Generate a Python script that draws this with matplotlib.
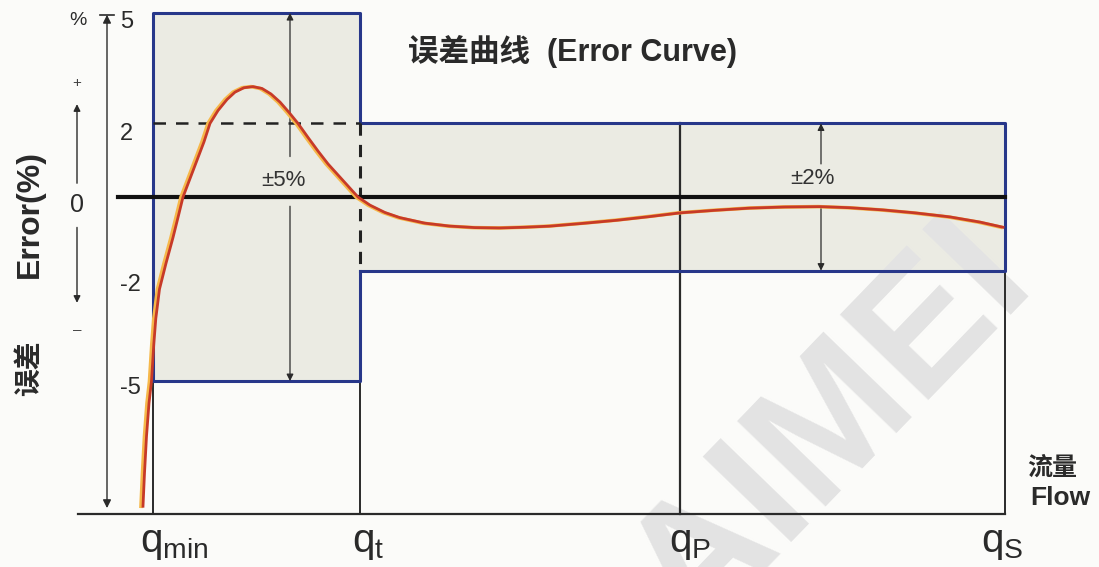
import matplotlib
matplotlib.use("Agg")
import matplotlib.pyplot as plt
from matplotlib.patches import Rectangle

plt.rcParams['font.family'] = ['Liberation Sans', 'Noto Sans CJK SC', 'DejaVu Sans']
plt.rcParams['mathtext.fontset'] = 'custom'
plt.rcParams['mathtext.rm'] = 'Liberation Sans'

# flow positions of the marks (schematic units)
q_names = ['min', 't', 'P', 'S']
q_pos = [153, 360, 680, 1005]

# error limits (%)
wide_limit = 5
narrow_limit = 2
tick_text = ['5', '2', '-2', '-5']

# error curve
flow = [143, 144.5, 146.5, 149, 151.5, 153.8, 155.8, 159.5, 166, 173, 178.5, 183,
        190, 197, 204, 210, 218, 227, 235, 244, 253, 262, 271, 280, 289, 298,
        308, 318, 328, 338, 348, 358, 370, 385, 400, 425, 450, 475, 500, 525,
        550, 585, 617, 650, 680, 715, 750, 785, 820, 850, 883, 915, 950, 980, 1003]
err = [-8.4, -7.5, -6.5, -5.6, -5.0, -4.0, -3.3, -2.5, -1.8, -1.1, -0.5, 0.0,
       0.5, 1.0, 1.5, 2.0, 2.35, 2.65, 2.85, 2.97, 3.0, 2.95, 2.8, 2.58, 2.3, 2.0,
       1.62, 1.25, 0.9, 0.6, 0.3, 0.0, -0.22, -0.42, -0.56, -0.71, -0.79, -0.83,
       -0.84, -0.82, -0.79, -0.71, -0.63, -0.53, -0.43, -0.36, -0.30, -0.27,
       -0.26, -0.29, -0.35, -0.43, -0.54, -0.68, -0.82]

base = -8.6
blue = '#27378a'
fill = '#ebebe3'
dark = '#2a2a2a'

fig = plt.figure(figsize=(10.99, 5.67), dpi=100)
fig.patch.set_facecolor('#fbfbf9')
ax = fig.add_axes([0, 0, 1, 1])
ax.set_xlim(0, 1099)
ax.set_ylim(-10.05, 5.353)
ax.axis('off')

qmin, qt, qp, qs = q_pos

# shaded tolerance zones
ax.add_patch(Rectangle((qmin, -wide_limit), qt - qmin, 2 * wide_limit,
                       facecolor=fill, edgecolor='none', zorder=1))
ax.add_patch(Rectangle((qt, -narrow_limit), qs - qt, 2 * narrow_limit,
                       facecolor=fill, edgecolor='none', zorder=1))

# watermark
ax.text(832, -6.3, 'AIMEI', fontsize=128, color='#e3e3e3', rotation=46,
        ha='center', va='center', zorder=1.5, fontweight='bold')

# blue outlines
lw_b = 2.2
ax.plot([qmin, qmin, qt, qt], [-wide_limit, wide_limit, wide_limit, narrow_limit],
        color=blue, lw=lw_b, zorder=3, solid_capstyle='butt')
ax.plot([qmin, qt, qt], [-wide_limit, -wide_limit, -narrow_limit],
        color=blue, lw=lw_b, zorder=3)
ax.plot([qt, qs, qs, qt], [narrow_limit, narrow_limit, -narrow_limit, -narrow_limit],
        color=blue, lw=lw_b, zorder=3)

# dashed limit lines
ax.plot([qmin, qt], [narrow_limit, narrow_limit], color='#222222', lw=1.8,
        ls=(0, (5, 4)), zorder=3)
ax.plot([qt, qt], [narrow_limit, -narrow_limit], color='#222222', lw=2.2,
        ls=(0, (4, 3)), zorder=3)

# vertical flow lines down to the base
ax.plot([qmin, qmin], [-wide_limit, base], color=dark, lw=1.4, zorder=2)
ax.plot([qt, qt], [-wide_limit, base], color=dark, lw=1.4, zorder=2)
ax.plot([qp, qp], [narrow_limit, base], color=dark, lw=1.6, zorder=2)
ax.plot([qs, qs], [-narrow_limit, base], color=dark, lw=1.4, zorder=2)

# base line and zero line
ax.plot([78, qs], [base, base], color=dark, lw=1.6, zorder=2)
ax.plot([118, qs], [0, 0], color='#111111', lw=3.0, zorder=4)

# main vertical axis with arrows
ax.annotate('', xy=(107, 4.95), xytext=(107, base + 0.15),
            arrowprops=dict(arrowstyle='<|-|>', color=dark, lw=1.0,
                            mutation_scale=12, shrinkA=0, shrinkB=0))
ax.plot([100, 114], [4.95, 4.95], color=dark, lw=1.2)

# +/- arrows next to the axis label
ax.annotate('', xy=(77, 2.6), xytext=(77, 0.3),
            arrowprops=dict(arrowstyle='-|>', color=dark, lw=1.0, mutation_scale=10))
ax.annotate('', xy=(77, -2.95), xytext=(77, -0.75),
            arrowprops=dict(arrowstyle='-|>', color=dark, lw=1.0, mutation_scale=10))
ax.text(77, 3.1, '+', fontsize=11, color='#444444', ha='center', va='center')
ax.text(77, -0.22, '0', fontsize=18, color=dark, ha='center', va='center')
ax.text(77, -3.6, '–', fontsize=11, color='#444444', ha='center', va='center')

# tolerance arrows
ax.annotate('', xy=(290, wide_limit), xytext=(290, 1.1),
            arrowprops=dict(arrowstyle='-|>', color=dark, lw=0.9, mutation_scale=10,
                            shrinkA=0, shrinkB=0))
ax.annotate('', xy=(290, -wide_limit), xytext=(290, -0.25),
            arrowprops=dict(arrowstyle='-|>', color=dark, lw=0.9, mutation_scale=10,
                            shrinkA=0, shrinkB=0))
ax.annotate('', xy=(821, narrow_limit), xytext=(821, 0.9),
            arrowprops=dict(arrowstyle='-|>', color=dark, lw=0.9, mutation_scale=10,
                            shrinkA=0, shrinkB=0))
ax.annotate('', xy=(821, -narrow_limit), xytext=(821, -0.25),
            arrowprops=dict(arrowstyle='-|>', color=dark, lw=0.9, mutation_scale=10,
                            shrinkA=0, shrinkB=0))
ax.text(283, 0.46, '±5%', fontsize=16, color='#333333', ha='center', va='center', zorder=5)
ax.text(812, 0.5, '±2%', fontsize=16, color='#333333', ha='center', va='center', zorder=5)

# error curve (orange glow + red line)
ax.plot([f - 2 for f in flow], err, color='#f6b84a', lw=2.6, zorder=5,
        solid_joinstyle='round')
ax.plot(flow, err, color='#c73a28', lw=2.0, zorder=6, solid_joinstyle='round')

# y tick labels
tick_y = [4.75, 1.7, -2.4, -5.2]
for v, t in zip(tick_y, tick_text):
    ax.text(120, v, t, fontsize=17, color=dark, ha='left', va='center')
ax.text(78, 4.8, '%', fontsize=14, color=dark, ha='center', va='center')

# axis titles
ax.text(30, -0.45, 'Error(%)', fontsize=23, rotation=90, ha='center', va='center',
        color=dark, fontweight='bold')
ax.text(30, -4.65, '误差', fontsize=20, rotation=90, ha='center', va='center',
        color=dark, fontweight='bold')
ax.text(572, 3.95, '误差曲线  (Error Curve)', fontsize=22, ha='center', va='center',
        color=dark, fontweight='bold')
ax.text(1052, -7.36, '流量', fontsize=18, ha='center', va='center', color=dark,
        fontweight='bold')
ax.text(1060, -8.18, 'Flow', fontsize=19, ha='center', va='center', color=dark,
        fontweight='bold')

# flow labels
label_x = [174, 368, 690, 1002]
for x, n in zip(label_x, q_names):
    ax.text(x, -9.4, r'$\mathregular{q_{%s}}$' % n, fontsize=29, color=dark,
            ha='center', va='center')

fig.savefig('out.png', dpi=100, facecolor=fig.get_facecolor())
